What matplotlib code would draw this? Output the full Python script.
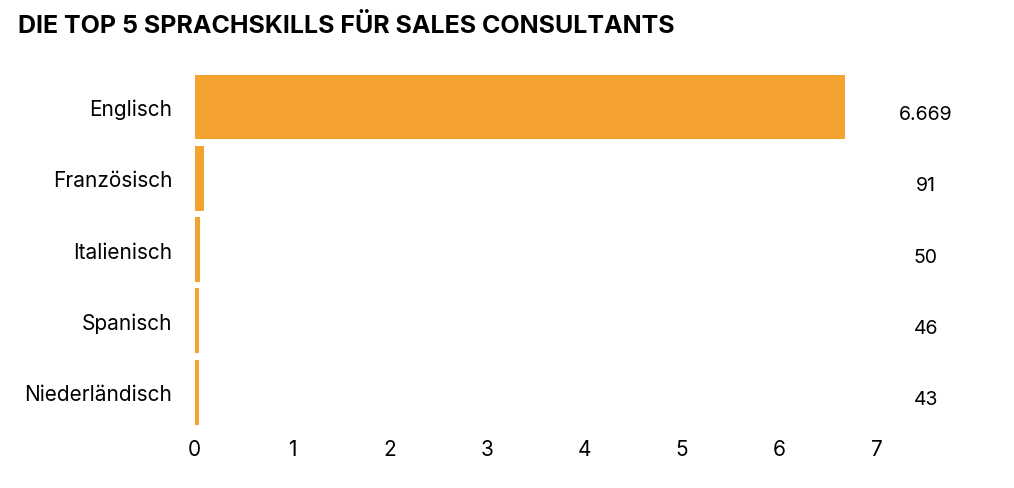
import matplotlib
matplotlib.use("Agg")
import matplotlib.pyplot as plt

categories = ["Englisch", "Französisch", "Italienisch", "Spanisch", "Niederländisch"]
values = [6.669, 0.091, 0.050, 0.046, 0.043]
value_labels = ["6.669", "91", "50", "46", "43"]
ticks = [0, 1, 2, 3, 4, 5, 6, 7]

plt.rcParams['font.family'] = ['Inter', 'DejaVu Sans']
fig = plt.figure(figsize=(10.14, 4.89), dpi=100)
ax = fig.add_axes([0.192, 0.123, 0.673, 0.729])
y = list(range(len(categories)))
ax.barh(y, values, height=0.91, color="#F4A230")
ax.set_ylim(len(categories) - 0.5, -0.5)
ax.set_xlim(0, 7)
ax.set_yticks(y)
ax.set_yticklabels(categories, fontsize=15)
ax.set_xticks(ticks)
ax.set_xticklabels([str(t) for t in ticks], fontsize=15)
ax.tick_params(length=0, pad=8)
ax.tick_params(axis='y', pad=16)
for s in ax.spines.values():
    s.set_visible(False)
for yi, lab in zip(y, value_labels):
    ax.text(7.5, yi + 0.1, lab, ha="center", va="center", fontsize=14, clip_on=False)
fig.text(0.018, 0.947, "DIE TOP 5 SPRACHSKILLS FÜR SALES CONSULTANTS", fontsize=18,
         fontweight="bold", ha="left", va="center")
fig.savefig("out.png", dpi=100)
